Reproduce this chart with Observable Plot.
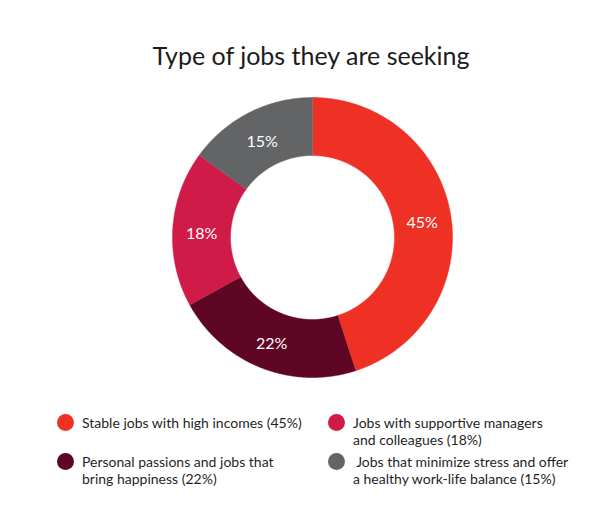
<!DOCTYPE html>
<html>
<head>
<meta charset="utf-8">
<script src="https://cdn.jsdelivr.net/npm/d3@7"></script>
<script src="https://cdn.jsdelivr.net/npm/@observablehq/plot@0.6"></script>
<style>
  html, body { margin: 0; padding: 0; background: #fff; }
  #wrap { position: relative; width: 596px; height: 510px; font-family: Lato, "Open Sans", sans-serif; overflow: hidden; }
  #title { position: absolute; left: 0; width: 622px; top: 40px; text-align: center; font-size: 25px; line-height: 30px; color: #1b1b1b; }
  #chart { position: absolute; left: 0; top: 87px; }
  #legend { position: absolute; left: 57px; top: 414px; display: grid; grid-template-columns: 271px 260px; grid-template-rows: 39px auto; font-size: 14px; line-height: 17px; color: #1f1f1f; }
  .item { display: flex; align-items: flex-start; }
  .sw { width: 17px; height: 17px; border-radius: 50%; flex: none; margin-right: 8px; margin-top: 0px; }
</style>
</head>
<body>
<div id="wrap">
  <div id="title">Type of jobs they are seeking</div>
  <div id="chart"></div>
  <div id="legend"></div>
</div>
<script>
const categories = [
  "Stable jobs with high incomes",
  "Personal passions and jobs that bring happiness",
  "Jobs with supportive managers and colleagues",
  "Jobs that minimize stress and offer a healthy work-life balance"
];
const values = [45, 22, 18, 15];
const colors = ["#EE3124", "#5E0624", "#D01A48", "#636466"];
const legendLines = [
  ["Stable jobs with high incomes (45%)"],
  ["Personal passions and jobs that", "bring happiness (22%)"],
  ["Jobs with supportive managers", "and colleagues (18%)"],
  ["\u00a0Jobs that minimize stress and offer", "a healthy work-life balance (15%)"]
];
// legend order in the picture: left col rows: 0,1 ; right col rows: 2,3
const legendOrder = [0, 2, 1, 3];

const outerR = 140, innerR = 82;
const total = d3.sum(values);
let acc = 0;
const slices = values.map((v, i) => {
  const a0 = acc / total * 2 * Math.PI;
  acc += v;
  const a1 = acc / total * 2 * Math.PI;
  return {i, name: categories[i], value: v, a0, a1, color: colors[i]};
});

const pts = [];
for (const s of slices) {
  const n = Math.max(2, Math.ceil((s.a1 - s.a0) / (Math.PI / 360)));
  for (let k = 0; k <= n; k++) {
    const a = s.a0 + (s.a1 - s.a0) * k / n;
    pts.push({slice: s.i, color: s.color, x: outerR * Math.sin(a), y: outerR * Math.cos(a)});
  }
  for (let k = n; k >= 0; k--) {
    const a = s.a0 + (s.a1 - s.a0) * k / n;
    pts.push({slice: s.i, color: s.color, x: innerR * Math.sin(a), y: innerR * Math.cos(a)});
  }
}
const labelR = (outerR + innerR) / 2;
const labels = slices.map(s => {
  const a = (s.a0 + s.a1) / 2;
  return {text: s.value + "%", x: labelR * Math.sin(a), y: labelR * Math.cos(a)};
});

const W = 596, H = 300, cx = 312;
const plot = Plot.plot({
  width: W, height: H,
  margin: 0,
  x: {domain: [-cx, W - cx], range: [0, W], axis: null},
  y: {domain: [-H / 2, H / 2], range: [H, 0], axis: null},
  marks: [
    Plot.line(pts, {x: "x", y: "y", z: "slice", fill: d => d.color, stroke: d => d.color, strokeWidth: 0.5, curve: "linear"}),
    Plot.text(labels, {x: "x", y: "y", text: "text", fill: "white", fontSize: 16, dy: 3, fontFamily: "Lato, sans-serif"})
  ]
});
document.getElementById("chart").appendChild(plot);

const leg = document.getElementById("legend");
for (const i of legendOrder) {
  const item = document.createElement("div");
  item.className = "item";
  const sw = document.createElement("span");
  sw.className = "sw";
  sw.style.background = colors[i];
  const t = document.createElement("div");
  t.innerHTML = legendLines[i].join("<br>");
  item.appendChild(sw);
  item.appendChild(t);
  leg.appendChild(item);
}
</script>
</body>
</html>
